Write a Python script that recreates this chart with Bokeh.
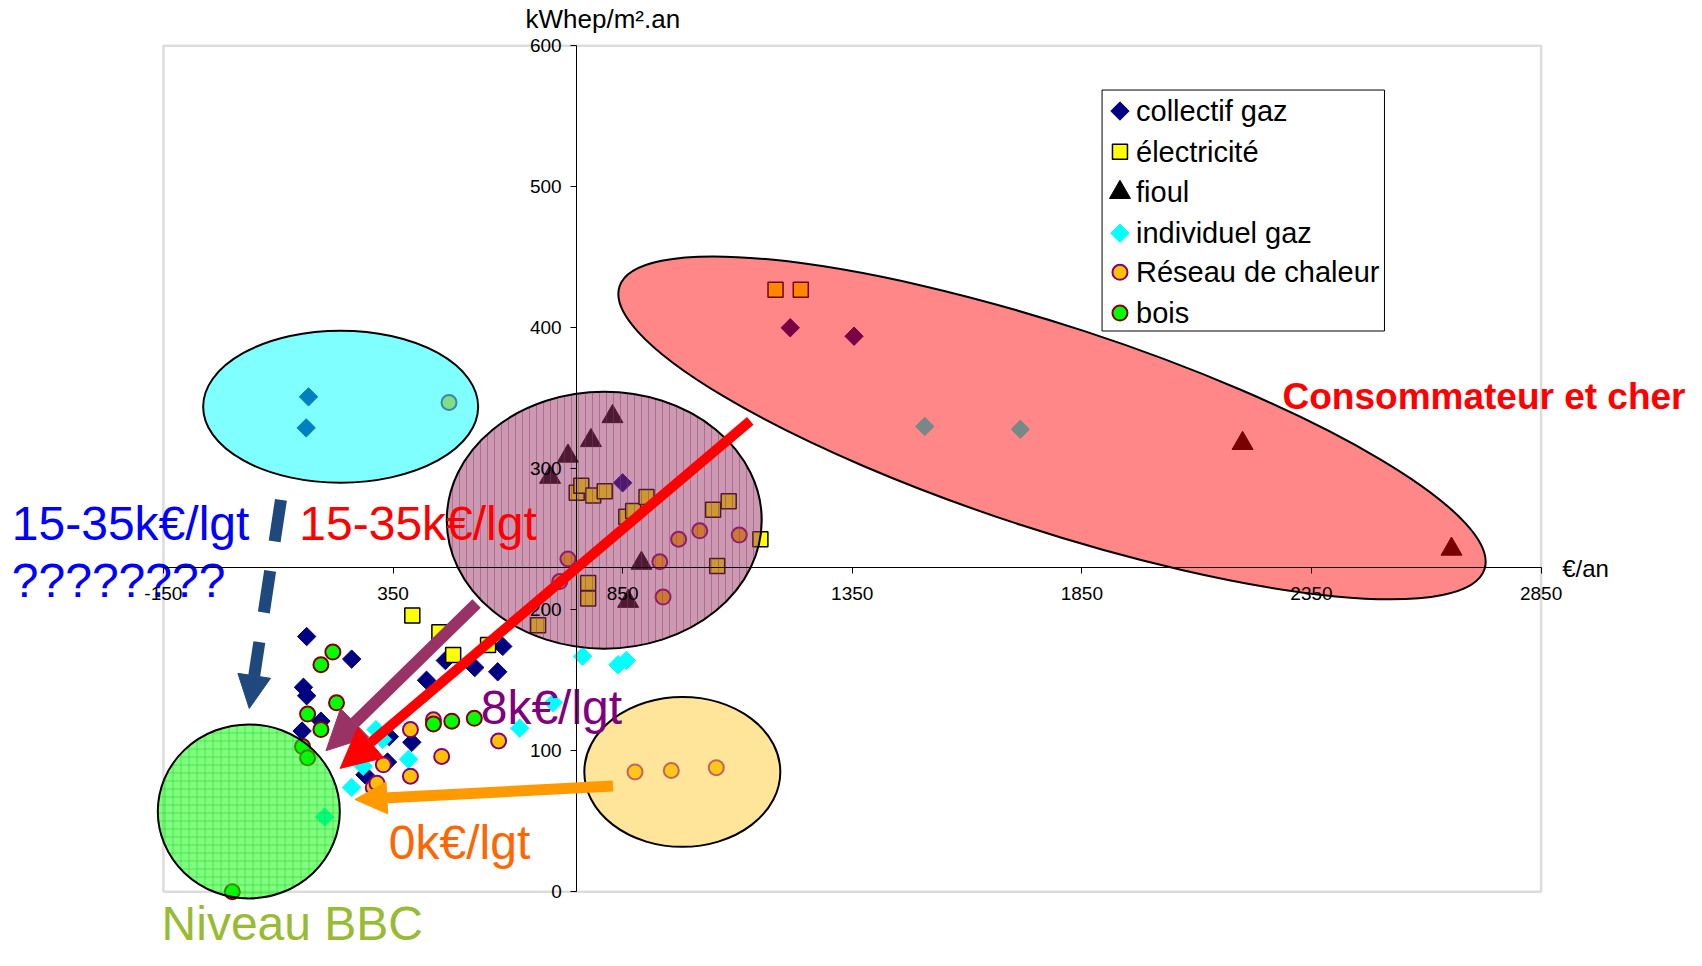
import math
from bokeh.plotting import figure
from bokeh.models import Range1d, FixedTicker, BoxAnnotation, Arrow, NormalHead
from bokeh.core.properties import value
from bokeh.embed import file_html
from bokeh.resources import INLINE

FONT = "Liberation Sans"

# ---------------- data (€/an, kWhep/m².an) ----------------
series_names = ["collectif gaz", "électricité", "fioul", "individuel gaz", "Réseau de chaleur", "bois"]

coll_x = [162, 260, 155, 162, 193, 152, 423, 464, 528, 578, 589, 342, 391, 338, 289, 166, 161, 850, 1215, 1354]
coll_y = [181, 165, 145, 139, 121, 114, 150, 164, 159, 156, 174, 110, 106, 92, 83, 351, 329, 290, 400, 394]

elec_x = [392, 451, 481, 557, 666, 750, 760, 786, 811, 775, 775, 858, 873, 902, 1047, 1081, 1056, 1150, 1183, 1238]
elec_y = [196, 184, 168, 175, 189, 283, 288, 281, 284, 219, 208, 266, 270, 280, 271, 277, 231, 250, 427, 427]

fioul_x = [692, 731, 781, 828, 891, 862, 2200, 2655]
fioul_y = [294, 309, 320, 337, 233, 206, 318, 243]

ind_x = [201, 260, 285, 313, 327, 384, 626, 699, 763, 840, 858, 1508, 1716]
ind_y = [53, 74, 89, 115, 108, 94, 116, 134, 167, 161, 164, 330, 328]

res_x = [472, 731, 713, 931, 972, 1018, 938, 1104, 877, 956, 1054, 388, 329, 388, 456, 580, 307, 315, 438]
res_y = [347, 236, 220, 234, 250, 256, 209, 253, 85, 86, 88, 115, 90, 82, 96, 107, 74, 77, 122]

bois_x = [219, 193, 227, 164, 193, 153, 164, 0, 438, 478, 527]
bois_y = [170, 161, 134, 126, 115, 103, 95, 0, 119, 121, 123]

x_ticks = [-150, 350, 850, 1350, 1850, 2350, 2850]
y_ticks = [0, 100, 200, 300, 400, 500, 600]
x_tick_labels = {t: str(t) for t in x_ticks}

# ---------------- figure ----------------
W, H = 1686, 950
X0, XS = -504.7, 1 / 0.45923      # data units per px
Y1, YS = 632.1, 1 / 1.41
p = figure(width=W, height=H,
           x_range=Range1d(X0, X0 + W * XS), y_range=Range1d(Y1 - H * YS, Y1),
           output_backend="svg", toolbar_location=None, min_border=0)
p.grid.visible = False
p.outline_line_color = None
p.background_fill_color = "white"
p.border_fill_color = "white"

p.xaxis.fixed_location = 230
p.yaxis.fixed_location = 750
p.xaxis.bounds = (-150, 2850)
p.yaxis.bounds = (0, 600)
p.xaxis.ticker = FixedTicker(ticks=x_ticks)
p.yaxis.ticker = FixedTicker(ticks=y_ticks)
p.xaxis.major_label_overrides = x_tick_labels
for ax in (p.xaxis, p.yaxis):
    ax.axis_line_color = "black"
    ax.axis_line_width = 1
    ax.major_tick_in = 0
    ax.major_tick_out = 6
    ax.major_tick_line_color = "black"
    ax.minor_tick_line_color = None
    ax.major_label_text_font = FONT
    ax.major_label_text_font_size = "19px"
    ax.major_label_text_color = "black"
p.xaxis.major_label_standoff = 14
p.yaxis.major_label_standoff = 9

# plot area border
p.add_layout(BoxAnnotation(left=-150, right=2850, bottom=0, top=600,
                           fill_alpha=0, line_color="#8c8c8c", line_width=2.5, level="underlay"))

# ---------------- series ----------------
styles = [
    dict(marker="square", size=13, angle=math.pi / 4, fill_color="#000080", line_color="#000080"),
    dict(marker="square", size=15, fill_color="#FFFF00", line_color="black", line_width=1.5),
    dict(marker="triangle", size=21, fill_color="black", line_color="black"),
    dict(marker="square", size=13, angle=math.pi / 4, fill_color="#00FFFF", line_color="#00FFFF"),
    dict(marker="circle", size=15, fill_color="#FFC000", line_color="#800080", line_width=2),
    dict(marker="circle", size=15, fill_color="#00FF00", line_color="#800000", line_width=2),
]
series = [(coll_x, coll_y), (elec_x, elec_y), (fioul_x, fioul_y),
          (ind_x, ind_y), (res_x, res_y), (bois_x, bois_y)]
for (sx, sy), st in zip(series, styles):
    p.scatter(sx, sy, **st)

# ---------------- arrows ----------------
def add_arrow(x0, y0, x1, y1, color, lw, head, dash="solid"):
    p.add_layout(Arrow(x_start=x0, y_start=y0, x_end=x1, y_end=y1,
                       line_color=color, line_width=lw, line_dash=dash,
                       end=NormalHead(size=head, fill_color=color, line_color=color, line_width=1)))

add_arrow(106, 278, 37, 130, "#1F497D", 12, 33, dash="42 30")
add_arrow(532, 204.5, 204, 100, "#993366", 12, 40)
add_arrow(1128, 334, 235, 87.5, "#FF0000", 10, 40)
add_arrow(829, 75, 267, 65.4, "#FF9900", 11, 32)

# ---------------- highlighted groups (ellipses) ----------------
p.ellipse(x=236, y=344, width=275, height=152, width_units="screen", height_units="screen",
          fill_color="#00FFFF", fill_alpha=0.5, line_color="black", line_width=2)
p.ellipse(x=810, y=263.5, width=315, height=257, width_units="screen", height_units="screen",
          fill_color="#993366", fill_alpha=0.5, line_color="black", line_width=2,
          hatch_pattern="|", hatch_color="#993366", hatch_alpha=0.45, hatch_scale=7, hatch_weight=1)
p.ellipse(x=1785, y=329, width=910, height=204, angle=-18.1 * math.pi / 180,
          width_units="screen", height_units="screen",
          fill_color="#FF0000", fill_alpha=0.47, line_color="black", line_width=2)
p.ellipse(x=36, y=57, width=182, height=174, width_units="screen", height_units="screen",
          fill_color="#00FF00", fill_alpha=0.5, line_color="black", line_width=2,
          hatch_pattern="+", hatch_color="#22CC22", hatch_alpha=0.5, hatch_scale=8, hatch_weight=1)
p.ellipse(x=980, y=85, width=196, height=150, width_units="screen", height_units="screen",
          fill_color="#FFCC33", fill_alpha=0.5, line_color="black", line_width=2)

# ---------------- texts ----------------
def add_text(x, y, txt, color, size, style="normal", align="left", baseline="middle"):
    p.text(x=[x], y=[y], text=[txt], text_color=color, text_font=value(FONT),
           text_font_size=size, text_font_style=style, text_align=align, text_baseline=baseline)

add_text(807, 619, "kWhep/m².an", "black", "26px", align="center")
add_text(2896, 229, "€/an", "black", "24px")
add_text(2287, 351.6, "Consommateur et cher", "#FF0000", "37px", style="bold")
add_text(-480, 261, "15-35k€/lgt", "#0000FF", "48px")
add_text(-480, 221, "????????", "#0000FF", "48px")
add_text(146, 261, "15-35k€/lgt", "#FF0000", "48px")
add_text(541, 131, "8k€/lgt", "#800080", "48px")
add_text(341, 35, "0k€/lgt", "#FF6600", "48px")
add_text(-154, Y1 - (H - 1) * YS, "Niveau BBC", "#99BB33", "48px", baseline="bottom")

# ---------------- legend (box, markers, labels) ----------------
leg_left, leg_right, leg_bottom, leg_top = 1894, 2509, 397.7, 568.6
leg_rows = [553.7, 524.8, 496.0, 467.0, 439.3, 410.4]
p.quad(left=leg_left, right=leg_right, bottom=leg_bottom, top=leg_top,
       fill_color="white", line_color="black", line_width=1)
for name, ry, st in zip(series_names, leg_rows, styles):
    p.scatter([1933], [ry], **st)
    add_text(1968, ry, name, "black", "29px")

open("out.html", "w").write(file_html(p, INLINE))
